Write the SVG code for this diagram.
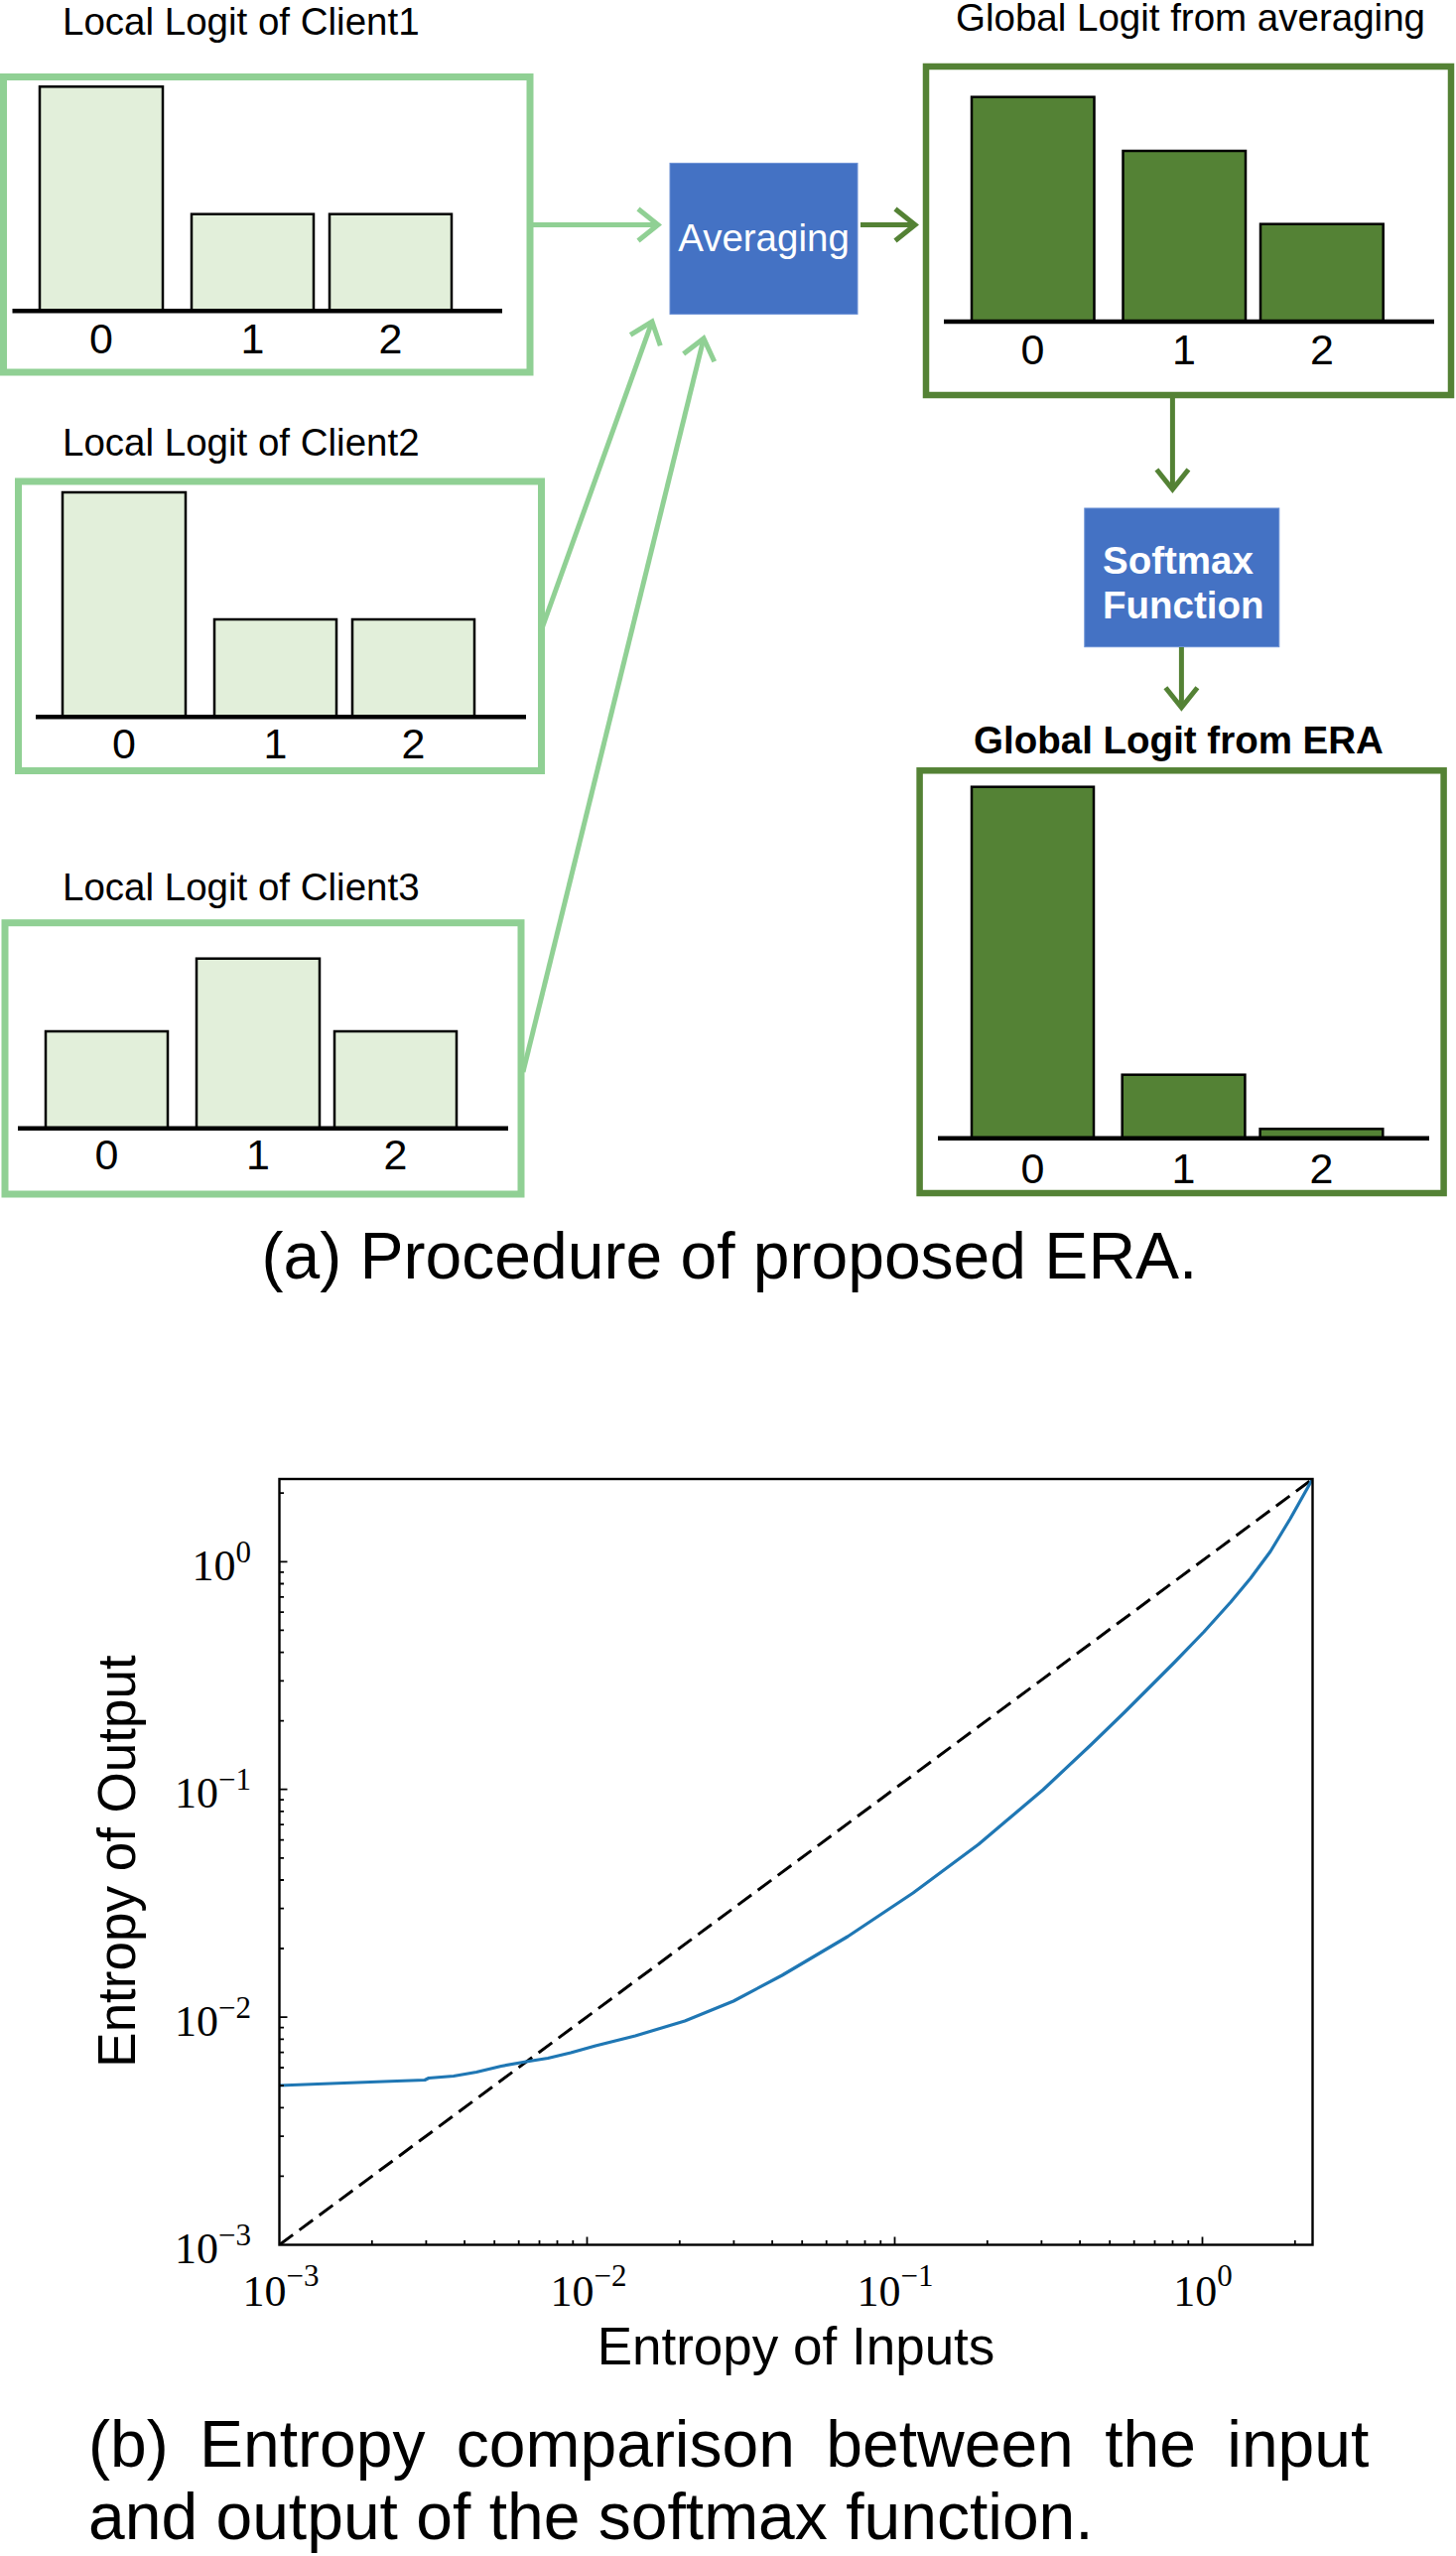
<svg xmlns="http://www.w3.org/2000/svg" width="1467" height="2575" viewBox="0 0 1467 2575">
<style>
.sans{font-family:"Liberation Sans",Arial,Helvetica,sans-serif}
.serif{font-family:"Liberation Serif","Times New Roman",serif}
.title{font-size:38.5px;fill:#000}
.lab{font-size:43px;text-anchor:middle;fill:#000}
.cbox{fill:#fff;stroke:#90D094;stroke-width:7}
.gbox{fill:#fff;stroke:#548235;stroke-width:6.5}
.lbar{fill:#E2EFDA;stroke:#000;stroke-width:2.5}
.dbar{fill:#548235;stroke:#000;stroke-width:2.5}
.base{stroke:#000;stroke-width:4.5}
.proc{fill:#4472C4;stroke:#6A8FD4;stroke-width:1}
.ptxt{font-size:38.5px;fill:#fff}
.lconn{fill:none;stroke:#90D094;stroke-width:5}
.dconn{fill:none;stroke:#548235;stroke-width:5}
.tick{stroke:#000;stroke-width:1.8}
.tl{font-size:44px;fill:#000}
.sup{font-size:31px}
.cap{font-size:66px;fill:#000}
.axl{font-size:53px;fill:#000;text-anchor:middle}
</style>
<defs>
<marker id="ahL" markerUnits="userSpaceOnUse" orient="auto" refX="0" refY="0" overflow="visible">
<path d="M-20,-16 L0,0 L-20,16" fill="none" stroke="#90D094" stroke-width="5"/>
</marker>
<marker id="ahD" markerUnits="userSpaceOnUse" orient="auto" refX="0" refY="0" overflow="visible">
<path d="M-20,-16 L0,0 L-20,16" fill="none" stroke="#548235" stroke-width="5"/>
</marker>
<clipPath id="axclip"><rect x="281.5" y="1490" width="1041" height="771.5"/></clipPath>
</defs>
<rect width="1467" height="2575" fill="#fff"/>

<g id="client1">
<text class="sans title" x="63" y="34.5">Local Logit of Client1</text>
<rect class="cbox" x="3.5" y="77.5" width="530.5" height="297.5"/>
<rect class="lbar" x="40" y="87.3" width="124" height="226"/>
<rect class="lbar" x="193" y="215.7" width="123" height="97.6"/>
<rect class="lbar" x="332" y="215.7" width="123" height="97.6"/>
<line class="base" x1="12.5" y1="313.3" x2="506" y2="313.3"/>
<text class="sans lab" x="102" y="356">0</text>
<text class="sans lab" x="254.5" y="356">1</text>
<text class="sans lab" x="393.5" y="356">2</text>
</g>

<g id="client2">
<text class="sans title" x="63" y="459.3">Local Logit of Client2</text>
<rect class="cbox" x="18.5" y="485" width="527" height="291.5"/>
<rect class="lbar" x="63" y="496" width="124" height="226.3"/>
<rect class="lbar" x="216" y="624" width="123" height="98.3"/>
<rect class="lbar" x="355" y="624" width="123" height="98.3"/>
<line class="base" x1="36" y1="722.3" x2="530" y2="722.3"/>
<text class="sans lab" x="125" y="764">0</text>
<text class="sans lab" x="277.5" y="764">1</text>
<text class="sans lab" x="416.5" y="764">2</text>
</g>

<g id="client3">
<text class="sans title" x="63" y="906.7">Local Logit of Client3</text>
<rect class="cbox" x="5" y="929.7" width="520" height="273.3"/>
<rect class="lbar" x="46" y="1039" width="123" height="97.7"/>
<rect class="lbar" x="198" y="965.7" width="124" height="171"/>
<rect class="lbar" x="337" y="1039" width="123" height="97.7"/>
<line class="base" x1="18" y1="1136.7" x2="512" y2="1136.7"/>
<text class="sans lab" x="107.5" y="1178">0</text>
<text class="sans lab" x="260" y="1178">1</text>
<text class="sans lab" x="398.5" y="1178">2</text>
</g>

<g id="averaging">
<rect class="proc" x="675" y="164.4" width="189" height="152"/>
<text class="sans ptxt" x="769.5" y="253" text-anchor="middle">Averaging</text>
</g>

<g id="global-avg">
<text class="sans title" x="963" y="31">Global Logit from averaging</text>
<rect class="gbox" x="933" y="67" width="529" height="331"/>
<rect class="dbar" x="979" y="97.7" width="123.5" height="226.3"/>
<rect class="dbar" x="1131.5" y="152" width="123.5" height="172"/>
<rect class="dbar" x="1270" y="225.7" width="123.7" height="98.3"/>
<line class="base" x1="951" y1="324" x2="1445" y2="324"/>
<text class="sans lab" x="1040.5" y="366.7">0</text>
<text class="sans lab" x="1193" y="366.7">1</text>
<text class="sans lab" x="1332" y="366.7">2</text>
</g>

<g id="softmax">
<rect class="proc" x="1092.8" y="512" width="196" height="139.7"/>
<text class="sans ptxt" x="1111" y="578.3" font-weight="bold">Softmax</text>
<text class="sans ptxt" x="1111" y="623.3" font-weight="bold">Function</text>
</g>

<g id="global-era">
<text class="sans title" x="1187.5" y="759.3" text-anchor="middle" font-weight="bold">Global Logit from ERA</text>
<rect class="gbox" x="926.6" y="776.3" width="528" height="425.7"/>
<rect class="dbar" x="979" y="792.7" width="123" height="354"/>
<rect class="dbar" x="1130.7" y="1082.7" width="123.7" height="64"/>
<rect class="dbar" x="1269.6" y="1137.3" width="123.7" height="9.4"/>
<line class="base" x1="945" y1="1146.7" x2="1440" y2="1146.7"/>
<text class="sans lab" x="1040.5" y="1191.7">0</text>
<text class="sans lab" x="1192.5" y="1191.7">1</text>
<text class="sans lab" x="1331.5" y="1191.7">2</text>
</g>

<g id="connectors">
<path class="lconn" d="M537,226.5 H663" marker-end="url(#ahL)"/>
<path class="lconn" d="M545,636 L657,324" marker-end="url(#ahL)"/>
<path class="lconn" d="M527,1080 L709,341" marker-end="url(#ahL)"/>
<path class="dconn" d="M867,226.5 H922" marker-end="url(#ahD)"/>
<path class="dconn" d="M1181.4,401 V493" marker-end="url(#ahD)"/>
<path class="dconn" d="M1190.4,652 V712.7" marker-end="url(#ahD)"/>
</g>

<text class="sans cap" x="735" y="1288" text-anchor="middle">(a) Procedure of proposed ERA.</text>

<g id="plot">
<g clip-path="url(#axclip)">
<path d="M281.5,2261.5 L1322.5,1490" fill="none" stroke="#000" stroke-width="3" stroke-dasharray="17 8"/>
<path d="M281.5,2101 L320,2099.5 L360,2098 L400,2096.5 L428,2095.5 L432,2093.5 L457,2091.5 L480,2087.5 L505,2081.5 L530,2077 L552,2073.5 L575,2068 L600,2061 L640,2051 L690,2036 L739,2016 L788,1990 L854,1951 L920,1907 L986,1858 L1051,1803 L1100,1757 L1133,1725 L1157,1701 L1183,1675 L1213,1644 L1240,1614 L1260,1590 L1280,1563 L1300,1530 L1322.5,1490" fill="none" stroke="#1F77B4" stroke-width="3.2" stroke-linejoin="round"/>
</g>
<rect x="281.5" y="1490" width="1041" height="771.5" fill="none" stroke="#000" stroke-width="2.4"/>
<path class="tick" d="M591.5,2261.5 v-8 M901.5,2261.5 v-8 M1211.5,2261.5 v-8
M374.8,2261.5 v-4.5 M429.4,2261.5 v-4.5 M468.1,2261.5 v-4.5 M498.2,2261.5 v-4.5 M522.7,2261.5 v-4.5 M543.5,2261.5 v-4.5 M561.5,2261.5 v-4.5 M577.3,2261.5 v-4.5
M684.8,2261.5 v-4.5 M739.4,2261.5 v-4.5 M778.1,2261.5 v-4.5 M808.2,2261.5 v-4.5 M832.7,2261.5 v-4.5 M853.5,2261.5 v-4.5 M871.5,2261.5 v-4.5 M887.3,2261.5 v-4.5
M994.8,2261.5 v-4.5 M1049.4,2261.5 v-4.5 M1088.1,2261.5 v-4.5 M1118.2,2261.5 v-4.5 M1142.7,2261.5 v-4.5 M1163.5,2261.5 v-4.5 M1181.5,2261.5 v-4.5 M1197.3,2261.5 v-4.5
M1304.8,2261.5 v-4.5
M281.5,2032.1 h8 M281.5,1802.7 h8 M281.5,1573.3 h8
M281.5,2192.4 h4.5 M281.5,2152.1 h4.5 M281.5,2123.4 h4.5 M281.5,2101.2 h4.5 M281.5,2083 h4.5 M281.5,2067.6 h4.5 M281.5,2054.3 h4.5 M281.5,2042.6 h4.5
M281.5,1963 h4.5 M281.5,1922.7 h4.5 M281.5,1894 h4.5 M281.5,1871.8 h4.5 M281.5,1853.6 h4.5 M281.5,1838.2 h4.5 M281.5,1824.9 h4.5 M281.5,1813.2 h4.5
M281.5,1733.6 h4.5 M281.5,1693.3 h4.5 M281.5,1664.6 h4.5 M281.5,1642.4 h4.5 M281.5,1624.2 h4.5 M281.5,1608.8 h4.5 M281.5,1595.5 h4.5 M281.5,1583.8 h4.5
M281.5,1504.2 h4.5"/>
<text class="serif tl" x="283" y="2323" text-anchor="middle">10<tspan class="sup" dy="-20">−3</tspan></text>
<text class="serif tl" x="593" y="2323" text-anchor="middle">10<tspan class="sup" dy="-20">−2</tspan></text>
<text class="serif tl" x="902" y="2323" text-anchor="middle">10<tspan class="sup" dy="-20">−1</tspan></text>
<text class="serif tl" x="1212" y="2323" text-anchor="middle">10<tspan class="sup" dy="-20">0</tspan></text>
<text class="serif tl" x="253" y="2280" text-anchor="end">10<tspan class="sup" dy="-18">−3</tspan></text>
<text class="serif tl" x="253" y="2050.7" text-anchor="end">10<tspan class="sup" dy="-18">−2</tspan></text>
<text class="serif tl" x="253" y="1821.3" text-anchor="end">10<tspan class="sup" dy="-18">−1</tspan></text>
<text class="serif tl" x="253" y="1591.7" text-anchor="end">10<tspan class="sup" dy="-18">0</tspan></text>
<text class="sans axl" x="802" y="2381.7">Entropy of Inputs</text>
<text class="sans axl" transform="translate(136,1875) rotate(-90)" x="0" y="0">Entropy of Output</text>
</g>

<text class="sans cap" x="89" y="2485" word-spacing="13">(b) Entropy comparison between the input</text>
<text class="sans cap" x="89" y="2558">and output of the softmax function.</text>
</svg>
